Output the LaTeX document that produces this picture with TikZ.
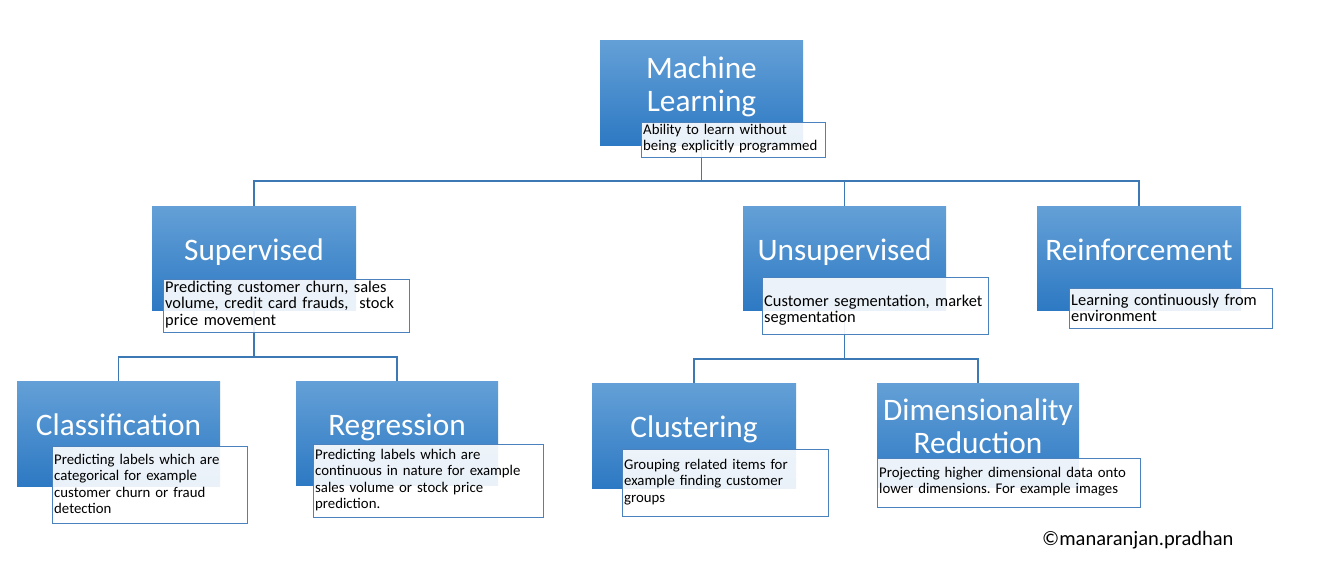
\documentclass[tikz,border=0pt]{standalone}
\usepackage{fontspec}
\setmainfont{Carlito}
\usetikzlibrary{backgrounds}
\frenchspacing
\definecolor{boxtop}{RGB}{100,160,215}
\definecolor{boxbot}{RGB}{45,121,195}
\definecolor{descline}{RGB}{75,130,190}
\definecolor{connc}{RGB}{60,120,180}
\tikzset{
  bluebox/.style={rectangle, inner sep=0pt, top color=boxtop, bottom color=boxbot, draw=none},
  descbox/.style={rectangle, inner sep=0pt, draw=descline, line width=1pt, fill=white, fill opacity=0.9, anchor=north west},
  desctext/.style={anchor=base west, inner sep=0pt, text width=280pt, align=left, font=\fontsize{14.8}{16.5}\selectfont, text=black},
  desctextbig/.style={desctext, font=\fontsize{16.4}{16.7}\selectfont},
  titletext/.style={anchor=base, inner sep=0pt, text=white, font=\fontsize{31.3}{33.8}\selectfont, align=center, text width=230pt},
  conn/.style={draw=connc, line width=1.1pt}
}
\begin{document}
\begin{tikzpicture}[x=1pt,y=-1pt]
\useasboundingbox (0,0) rectangle (1319,582);

% blue boxes
\node[bluebox, minimum width=203pt, minimum height=105pt] (ml) at (701.5,92.5) {};
\node[bluebox, minimum width=204pt, minimum height=104pt] (sup) at (254,258) {};
\node[bluebox, minimum width=203pt, minimum height=104pt] (uns) at (844.5,258) {};
\node[bluebox, minimum width=204pt, minimum height=104pt] (rei) at (1139,258) {};
\node[bluebox, minimum width=203pt, minimum height=105pt] (cla) at (118.5,433.5) {};
\node[bluebox, minimum width=202pt, minimum height=104pt] (reg) at (397,433) {};
\node[bluebox, minimum width=204pt, minimum height=105pt] (clu) at (694,435.5) {};
\node[bluebox, minimum width=202pt, minimum height=104pt] (dim) at (978,435) {};

% titles
\node[titletext] (mlt) at (701.5,78) {Machine\\Learning};
\node[titletext] (supt) at (254,260) {Supervised};
\node[titletext] (unst) at (844.5,260) {Unsupervised};
\node[titletext] (reit) at (1139,260) {Reinforcement};
\node[titletext] (clat) at (118.5,435) {Classification};
\node[titletext] (regt) at (397,435) {Regression};
\node[titletext] (clut) at (694,437) {Clustering};
\node[titletext] (dimt) at (978,420) {Dimensionality\\Reduction};

% description boxes
\node[descbox, minimum width=184pt, minimum height=35pt] (mld) at (641,122) {};
\node[descbox, minimum width=246pt, minimum height=53pt] (supd) at (163,279) {};
\node[descbox, minimum width=226pt, minimum height=57pt] (unsd) at (762,277) {};
\node[descbox, minimum width=203pt, minimum height=40pt] (reid) at (1069,288) {};
\node[descbox, minimum width=195pt, minimum height=77pt] (clad) at (52,446) {};
\node[descbox, minimum width=230pt, minimum height=73pt] (regd) at (313,444) {};
\node[descbox, minimum width=206pt, minimum height=67pt] (clud) at (622,449) {};
\node[descbox, minimum width=263pt, minimum height=49pt] (dimd) at (877,458) {};

% description texts
\node[desctext] (mldt) at (643,134) {Ability to learn without\\being explicitly programmed};
\node[desctextbig] (supdt) at (165,292) {Predicting customer churn, sales\\volume, credit card frauds,~ stock\\price movement};
\node[desctextbig] (unsdt) at (764,306) {Customer segmentation, market\\segmentation};
\node[desctextbig] (reidt) at (1071,305) {Learning continuously from\\environment};
\node[desctext] (cladt) at (54,464) {Predicting labels which are\\categorical for example\\customer churn or fraud\\detection};
\node[desctext] (regdt) at (315,459) {Predicting labels which are\\continuous in nature for example\\sales volume or stock price\\prediction.};
\node[desctext] (cludt) at (624,469) {Grouping related items for\\example finding customer\\groups};
\node[desctext] (dimdt) at (879,477) {Projecting higher dimensional data onto\\lower dimensions. For example images};

% copyright
\node[anchor=base west, inner sep=0pt, font=\fontsize{20.5}{23}\selectfont] (copy) at (1042,545) {©manaranjan.pradhan};

% connectors
\coordinate (j0) at (701.5,181);
\coordinate (jl) at (254,357);
\coordinate (jr) at (844.5,359);
\begin{scope}[on background layer]
\fill[white] (0,0) rectangle (1319,582);
\draw[conn] (ml.center) -- (j0);
\draw[conn] (j0) -| (sup.center);
\draw[conn] (j0) -| (uns.center);
\draw[conn] (j0) -| (rei.center);
\draw[conn] (sup.center) -- (jl);
\draw[conn] (jl) -| (cla.center);
\draw[conn] (jl) -| (reg.center);
\draw[conn] (uns.center) -- (jr);
\draw[conn] (jr) -| (clu.center);
\draw[conn] (jr) -| (dim.center);
\end{scope}
\end{tikzpicture}
\end{document}
